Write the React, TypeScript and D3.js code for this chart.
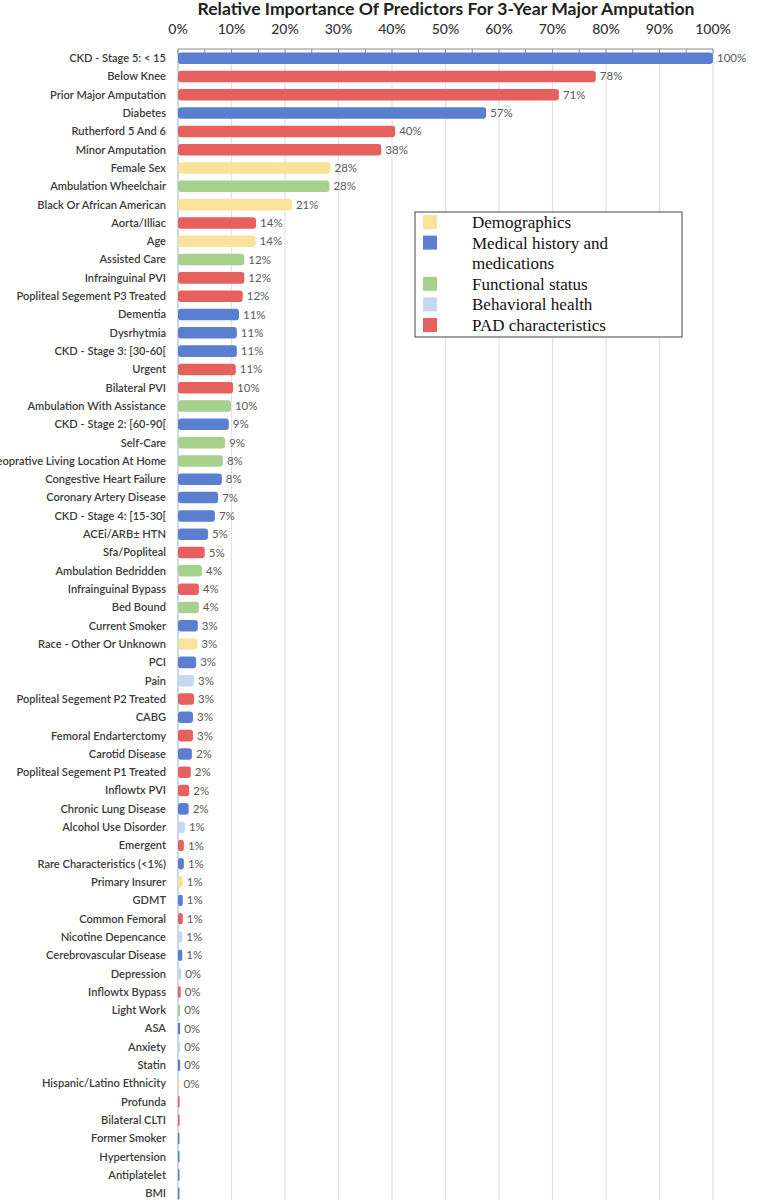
import React from "react";
import * as d3 from "d3";

const predictors: string[] = [
  "CKD - Stage 5: < 15", "Below Knee", "Prior Major Amputation", "Diabetes", "Rutherford 5 And 6",
  "Minor Amputation", "Female Sex", "Ambulation Wheelchair", "Black Or African American", "Aorta/Illiac",
  "Age", "Assisted Care", "Infrainguinal PVI", "Popliteal Segement P3 Treated", "Dementia",
  "Dysrhytmia", "CKD - Stage 3: [30-60[", "Urgent", "Bilateral PVI", "Ambulation With Assistance",
  "CKD -  Stage 2: [60-90[", "Self-Care", "Preoprative Living Location At Home", "Congestive Heart Failure", "Coronary Artery Disease",
  "CKD - Stage 4: [15-30[", "ACEi/ARB± HTN", "Sfa/Popliteal", "Ambulation Bedridden", "Infrainguinal Bypass",
  "Bed Bound", "Current Smoker", "Race - Other Or Unknown", "PCI", "Pain",
  "Popliteal Segement P2 Treated", "CABG", "Femoral Endarterctomy", "Carotid Disease", "Popliteal Segement P1 Treated",
  "Inflowtx PVI", "Chronic Lung Disease", "Alcohol Use Disorder", "Emergent", "Rare Characteristics (<1%)",
  "Primary Insurer", "GDMT", "Common Femoral", "Nicotine Depencance", "Cerebrovascular Disease",
  "Depression", "Inflowtx Bypass", "Light Work", "ASA", "Anxiety",
  "Statin", "Hispanic/Latino Ethnicity", "Profunda", "Bilateral CLTI", "Former Smoker",
  "Hypertension", "Antiplatelet", "BMI",
];

const importance: number[] = [
  100, 78.1, 71.2, 57.6, 40.6,
  38.0, 28.5, 28.3, 21.3, 14.6,
  14.5, 12.4, 12.4, 12.1, 11.4,
  11.0, 11.0, 10.8, 10.3, 9.9,
  9.5, 8.8, 8.4, 8.2, 7.5,
  6.9, 5.6, 5.0, 4.5, 3.9,
  3.9, 3.7, 3.6, 3.4, 3.0,
  3.0, 2.8, 2.8, 2.6, 2.4,
  2.1, 2.0, 1.3, 1.1, 1.1,
  0.9, 0.9, 0.9, 0.8, 0.8,
  0.6, 0.5, 0.4, 0.4, 0.4,
  0.4, 0.3, 0.3, 0.3, 0.25,
  0.25, 0.25, 0.25,
];

const valueLabels: string[] = [
  "100%", "78%", "71%", "57%", "40%", "38%", "28%", "28%", "21%", "14%",
  "14%", "12%", "12%", "12%", "11%", "11%", "11%", "11%", "10%", "10%",
  "9%", "9%", "8%", "8%", "7%", "7%", "5%", "5%", "4%", "4%",
  "4%", "3%", "3%", "3%", "3%", "3%", "3%", "3%", "2%", "2%",
  "2%", "2%", "1%", "1%", "1%", "1%", "1%", "1%", "1%", "1%",
  "0%", "0%", "0%", "0%", "0%", "0%", "0%", "", "", "",
  "", "", "",
];

// D = Demographics, M = Medical history, F = Functional, B = Behavioral, P = PAD
const groups: string[] = [
  "M", "P", "P", "M", "P", "P", "D", "F", "D", "P",
  "D", "F", "P", "P", "M", "M", "M", "P", "P", "F",
  "M", "F", "F", "M", "M", "M", "M", "P", "F", "P",
  "F", "M", "D", "M", "B", "P", "M", "P", "M", "P",
  "P", "M", "B", "P", "M", "D", "M", "P", "B", "M",
  "B", "P", "F", "M", "B", "M", "D", "P", "P", "M",
  "M", "M", "M",
];

const legendKeys: string[] = ["D", "M", "F", "B", "P"];
const legendLabels: string[][] = [
  ["Demographics"],
  ["Medical history and", "medications"],
  ["Functional status"],
  ["Behavioral health"],
  ["PAD characteristics"],
];
const groupColors: string[] = ["#fbe29a", "#5b7fd0", "#a6d08c", "#c4d8f0", "#e6605d"];

const xTicks: number[] = [0, 10, 20, 30, 40, 50, 60, 70, 80, 90, 100];

const W = 770;
const H = 1200;
const labelFont = "'Liberation Sans Narrow', 'Arial Narrow', Lato, sans-serif";

export default function App() {
  const x = d3.scaleLinear().domain([0, 100]).range([178, 713]);
  const y = d3
    .scaleBand<string>()
    .domain(predictors)
    .range([49, 49 + predictors.length * 18.31])
    .paddingInner(0.37)
    .paddingOuter(0.185);
  const color = d3.scaleOrdinal<string, string>().domain(legendKeys).range(groupColors);
  const minor = d3.range(0, 101, 5);
  const bw = y.bandwidth();

  let legendLine = 0;
  const legendRows = legendLabels.map((lines, i) => {
    const start = legendLine;
    legendLine += lines.length;
    return { key: legendKeys[i], lines, start };
  });

  return (
    <svg width={W} height={H} style={{ position: "absolute", left: 0, top: 0, background: "#fff" }}>
      <rect x={0} y={0} width={W} height={H} fill="#fff" />
      <text x={446} y={15} textAnchor="middle" fontFamily={labelFont} fontWeight="bold" fontSize={17.6} fill="#222">
        Relative Importance Of Predictors For 3-Year Major Amputation
      </text>
      {/* gridlines */}
      {xTicks.map((t) => (
        <line key={"g" + t} x1={x(t)} x2={x(t)} y1={49} y2={H} stroke="#e3e3e3" strokeWidth={1.3} />
      ))}
      {/* left axis line */}
      <line x1={x(0)} x2={x(0)} y1={49} y2={H} stroke="#b9cbe8" strokeWidth={1.3} />
      {/* top axis */}
      <line x1={x(0)} x2={x(100)} y1={49} y2={49} stroke="#8c8c8c" strokeWidth={1.2} />
      {minor.map((t) => (
        <line key={"t" + t} x1={x(t)} x2={x(t)} y1={49} y2={54} stroke="#8c8c8c" strokeWidth={1} />
      ))}
      {xTicks.map((t) => (
        <text key={"l" + t} x={x(t)} y={34} textAnchor="middle" fontFamily={labelFont} fontSize={14} fontWeight={500} fill="#333">
          {t + "%"}
        </text>
      ))}
      {/* bars */}
      {predictors.map((p, i) => {
        const by = y(p) as number;
        const w = Math.max(x(importance[i]) - x(0), 1.5);
        return (
          <g key={p}>
            <rect x={x(0)} y={by} width={w} height={bw} rx={Math.min(3, w / 2)} fill={color(groups[i])} />
            <text
              x={x(0) - 12}
              y={by + bw / 2}
              dy="0.35em"
              textAnchor="end"
              fontFamily={labelFont}
              fontSize={11.1}
              fontWeight={600}
              fill="#3a3a3a"
            >
              {p}
            </text>
            {valueLabels[i] && (
              <text
                x={x(importance[i]) + 4}
                y={by + bw / 2}
                dy="0.35em"
                fontFamily={labelFont}
                fontSize={11.5}
                fill="#5a5a5a"
              >
                {valueLabels[i]}
              </text>
            )}
          </g>
        );
      })}
      {/* legend */}
      <g>
        <rect x={415} y={212} width={267} height={125} fill="#fff" stroke="#444" strokeWidth={1} />
        {legendRows.map((r) => (
          <g key={r.key}>
            <rect x={423} y={215 + r.start * 20.6} width={14} height={14} fill={color(r.key)} />
            {r.lines.map((ln, j) => (
              <text
                key={j}
                x={472}
                y={222 + (r.start + j) * 20.6}
                dy="0.35em"
                fontFamily="'Liberation Serif', 'DejaVu Serif', serif"
                fontSize={17}
                fill="#111"
              >
                {ln}
              </text>
            ))}
          </g>
        ))}
      </g>
    </svg>
  );
}
